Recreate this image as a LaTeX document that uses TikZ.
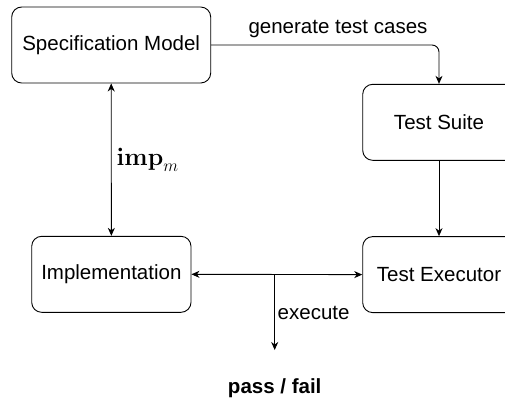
\documentclass[tikz,border=0pt]{standalone}
\usepackage[no-math]{fontspec}
\setmainfont{Liberation Sans}
\usetikzlibrary{arrows.meta}
\begin{document}
\begin{tikzpicture}[x=1pt,y=-1pt,
  box/.style={draw, line width=0.9pt, rounded corners=10pt, minimum height=76pt, inner sep=0pt,
    font=\fontsize{20.5}{24}\selectfont},
  lbl/.style={font=\fontsize{20.5}{24}\selectfont, inner sep=0pt},
  conn/.style={line width=0.9pt, -{Stealth[length=8pt,width=7pt,inset=2.5pt]}},
  dconn/.style={line width=0.9pt, {Stealth[length=8pt,width=7pt,inset=2.5pt]}-{Stealth[length=8pt,width=7pt,inset=2.5pt]}}]
\useasboundingbox (0,0) rectangle (505,400);
\node[box, minimum width=199pt] (spec) at (111.2,45) {Specification Model};
\node[box, minimum width=159.3pt] (impl) at (111.35,274.3) {Implementation};
\node[box, minimum width=152.6pt] (suite) at (439,122.3) {Test Suite};
\node[box, minimum width=152.6pt] (exec) at (439,274.6) {Test Executor};
\draw[conn, rounded corners=7pt] (spec.east) -| (suite.north);
\node[lbl, anchor=base] (gen) at (338,33) {generate test cases};
\draw[dconn] (spec.south) -- (impl.north);
\node[anchor=west, inner sep=0pt, font=\fontsize{24}{28}\selectfont] (imp) at (116.5,160) {$\mathbf{imp}_m$};
\draw[conn] (suite.south) -- (exec.north);
\draw[dconn] (impl.east) -- (exec.west);
\coordinate (fork) at (274.7,274.5);
\coordinate (out) at (274.7,350);
\draw[conn] (fork) -- (out);
\node[lbl, anchor=west] (execute) at (277.5,312.7) {execute};
\node[lbl, anchor=center] (pf) at (274.7,387.7) {\bfseries pass / fail};
\end{tikzpicture}
\end{document}
